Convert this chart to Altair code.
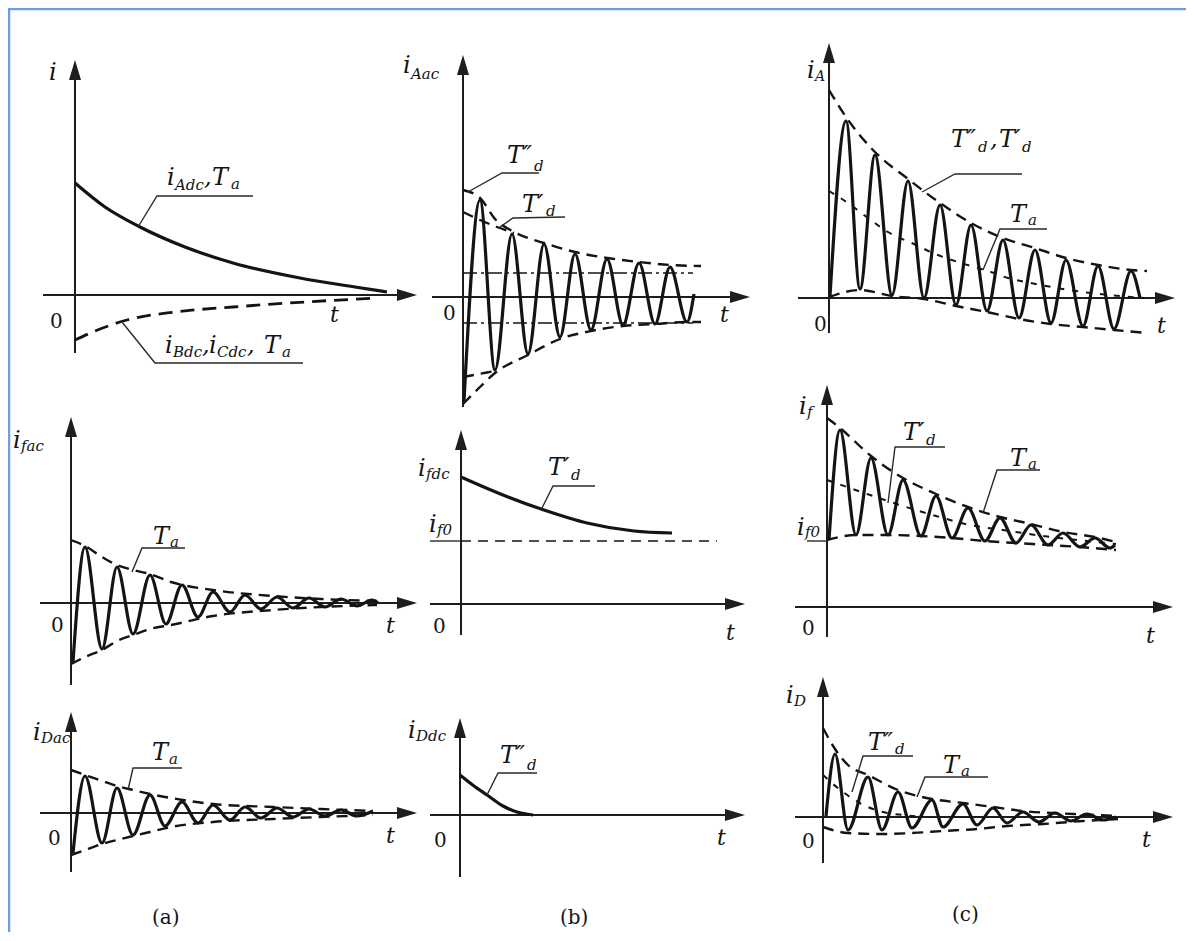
import altair as alt
import pandas as pd

# ---------------------------------------------------------------
# Values (arbitrary units: t = time, i = current)
# ---------------------------------------------------------------
# (a) top : DC components of the armature currents
IADC_T = [0, 30, 65, 110, 158, 225, 280, 312]
IADC_I = [112, 88, 68, 48, 32, 17, 8, 3]
IBDC_T = [0, 25, 52, 100, 158, 230, 302]
IBDC_I = [-45, -34, -25, -17, -12, -7, -3]

# (a) middle : AC component of the field current (successive extremes)
IFAC_T = [2, 14, 31, 46, 62, 79, 95, 111, 127, 142, 159, 174, 190, 206, 222, 238, 254, 270, 286, 301, 307]
IFAC_I = [-59, 56, -46, 36, -31, 28, -21, 18, -14, 11, -9, 8, -6, 6, -5, 5, -4, 4, -3, 3, 0]
IFAC_ENV_T = [0, 14, 31, 46, 62, 79, 100, 142, 202, 250, 306]
IFAC_ENV_UP = [63, 57, 46, 38, 33, 29, 21, 13, 7, 4, 2]
IFAC_ENV_LO = [-61, -54, -47, -38, -32, -26, -22, -13, -7, -4, -2]

# (a) bottom : AC component of the damper current
IDAC_T = [2, 14, 31, 46, 62, 79, 94, 111, 127, 142, 159, 174, 190, 206, 222, 238, 254, 270, 286, 302]
IDAC_I = [-40, 37, -30, 25, -22, 18, -13, 11, -10, 8, -7, 6, -5, 5, -4, 4, -3, 3, -3, 2]
IDAC_ENV_T = [0, 14, 31, 46, 62, 79, 100, 142, 202, 250, 302]
IDAC_ENV_UP = [43, 38, 32, 27, 23, 19, 15, 9, 6, 4, 2]
IDAC_ENV_LO = [-42, -37, -31, -27, -23, -19, -14, -9, -6, -4, -2]

# (b) top : AC component of phase-A current
IAAC_T = [1, 17, 32, 49, 65, 81, 97, 112, 128, 144, 160, 176, 192, 207, 224, 231]
IAAC_I = [-104, 97, -73, 63, -57, 53, -40, 43, -33, 38, -28, 34, -27, 30, -25, 3]
IAAC_SUB_UP_T = [0, 17, 33, 49, 81, 112, 144, 176, 207, 238]        # T''d envelope
IAAC_SUB_UP = [107, 99, 77, 66, 54, 45, 39, 35, 32, 31]
IAAC_SUB_LO_T = [0, 17, 32, 65, 97, 128, 160, 192, 224, 238]
IAAC_SUB_LO = [-107, -90, -76, -58, -42, -34, -29, -27, -25, -25]
IAAC_TR_UP_T = [0, 17, 34, 51]                                        # T'd envelope
IAAC_TR_UP = [85, 77, 70, 64]
IAAC_TR_LO_T = [0, 16, 32]
IAAC_TR_LO = [-80, -77, -74]
IAAC_SS_T = [0, 230]                                                  # steady-state amplitude
IAAC_SS_UP = [24, 24]
IAAC_SS_LO = [-26, -26]

# (b) middle : DC component of the field current
IFDC_T = [0, 42, 83, 126, 173, 211]
IFDC_I = [127, 109, 94, 81, 73, 71]
IF0_B_T = [0, 256]
IF0_B = [63, 63]

# (b) bottom : DC component of the damper current
IDDC_T = [0, 14, 27, 43, 57, 73]
IDDC_I = [40, 29, 20, 9, 3, 0]

# (c) top : total phase-A current
IA_T = [1, 17, 31, 46, 63, 79, 95, 111, 127, 142, 158, 174, 190, 206, 222, 237, 254, 269, 285, 302, 311]
IA_I = [2, 177, 9, 143, 3, 117, 0, 93, -7, 73, -13, 58, -20, 48, -25, 38, -28, 32, -31, 27, 0]
IA_UP_T = [0, 17, 46, 79, 111, 142, 174, 206, 237, 269, 302, 318]
IA_UP = [208, 181, 146, 119, 95, 75, 60, 50, 40, 33, 28, 27]
IA_LO_T = [0, 31, 63, 95, 127, 158, 190, 222, 254, 285, 318]
IA_LO = [1, 8, 2, -1, -8, -14, -21, -26, -29, -32, -35]
IA_DC_T = [0, 19, 39, 59, 87, 104, 132, 162, 179, 202, 240, 280, 315]
IA_DC = [107, 95, 80, 66, 53, 45, 35, 26, 20, 15, 8, 3, 0]

# (c) middle : total field current
IF_T = [2, 13, 29, 44, 61, 76, 94, 109, 125, 141, 158, 173, 189, 204, 221, 236, 253, 268, 283, 288]
IF_I = [67, 177, 72, 149, 72, 127, 71, 111, 69, 99, 66, 89, 64, 82, 62, 74, 60, 69, 59, 62]
IF_UP_T = [0, 13, 44, 76, 109, 141, 173, 204, 236, 268, 289]
IF_UP = [189, 179, 151, 129, 113, 100, 90, 83, 75, 70, 65]
IF_LO_T = [0, 29, 61, 94, 125, 158, 189, 221, 253, 289]
IF_LO = [67, 72, 72, 71, 69, 66, 64, 62, 60, 57]
IF_DC_T = [0, 43, 76, 109, 143, 176, 209, 250, 289]
IF_DC = [127, 112, 101, 91, 82, 77, 72, 67, 63]

# (c) bottom : total damper current
ID_T = [3, 12, 25, 45, 59, 75, 89, 109, 120, 140, 154, 170, 184, 200, 216, 232, 248, 264, 280, 293]
ID_I = [1, 63, -13, 40, -13, 25, -11, 17, -10, 13, -8, 9, -6, 5, -5, 4, -4, 3, -3, 0]
ID_UP_T = [0, 12, 25, 45, 75, 109, 140, 170, 200, 250, 295]
ID_UP = [89, 68, 52, 42, 27, 18, 14, 10, 6, 3, 1]
ID_DC_T = [0, 10, 20, 30, 45, 60, 80, 100]
ID_DC = [42, 33, 25, 18, 10, 5, 2, 0]
ID_LO_T = [0, 25, 59, 89, 120, 154, 184, 220, 260, 295]
ID_LO = [-10, -16, -17, -16, -14, -12, -9, -7, -4, -2]

# ---------------------------------------------------------------
# Layout / style
# ---------------------------------------------------------------
W, H = 1178, 924
X0, Y0 = 8, 8
INK = "#141414"
AXC = "#1e1e1e"
FRAME = "#6f9ddf"
FONT = "DejaVu Serif"
ARROW = "M0,0L-0.6,2L0.6,2Z"
M, S = 24, 15  # main / subscript font sizes
DP = "\u2033"  # double prime
SP = "\u2032"  # prime


def it(text, t, i, s=M):
    return (text, t, i, s)


PANELS = [
    # ---------------- column (a) ----------------
    dict(origin=(75, 295), axes=(-32, 342, -58, 235),
         solid=[(IADC_T, IADC_I)],
         bigdash=[(IBDC_T, IBDC_I)],
         leaders=[[(63, 68), (82, 99), (178, 99)], [(47, -27), (80, -68), (228, -68)]],
         italic=[it("i", -26, 215), it("t", 255, -27, 22),
                 it("i", 92, 110), it("Adc", 100, 105, S), it(",", 129, 110), it("T", 137, 110), it("a", 156, 106, S),
                 it("i", 90, -58), it("Bdc", 98, -62, S), it(",", 127, -58), it("i", 134, -58),
                 it("Cdc", 142, -62, S), it(",", 172, -58), it("T", 189, -58), it("a", 207, -62, S)],
         roman=[it("0", -25, -33, 20)]),
    dict(origin=(71, 603), axes=(-31, 346, -82, 186),
         solid=[(IFAC_T, IFAC_I)],
         dashed=[(IFAC_ENV_T, IFAC_ENV_UP), (IFAC_ENV_T, IFAC_ENV_LO)],
         leaders=[[(61, 31), (71, 55), (114, 55)]],
         italic=[it("i", -58, 155), it("fac", -50, 152, S), it("t", 315, -30, 22),
                 it("T", 82, 59), it("a", 99, 56, S)],
         roman=[it("0", -20, -29, 20)]),
    dict(origin=(71, 813), axes=(-31, 346, -59, 101),
         solid=[(IDAC_T, IDAC_I)],
         dashed=[(IDAC_ENV_T, IDAC_ENV_UP), (IDAC_ENV_T, IDAC_ENV_LO)],
         leaders=[[(57, 23), (62, 45), (111, 45)]],
         italic=[it("i", -38, 73), it("Dac", -30, 70, S), it("t", 315, -30, 22),
                 it("T", 81, 53), it("a", 98, 49, S)],
         roman=[it("0", -23, -32, 20), it("(a)", 81, -111, 20)]),
    # ---------------- column (b) ----------------
    dict(origin=(463, 297), axes=(-31, 287, -110, 242),
         solid=[(IAAC_T, IAAC_I)],
         dashed=[(IAAC_SUB_UP_T, IAAC_SUB_UP), (IAAC_SUB_LO_T, IAAC_SUB_LO),
                 (IAAC_TR_UP_T, IAAC_TR_UP), (IAAC_TR_LO_T, IAAC_TR_LO)],
         dashdot=[(IAAC_SS_T, IAAC_SS_UP), (IAAC_SS_T, IAAC_SS_LO)],
         leaders=[[(5, 105), (39, 124), (76, 124)], [(37, 70), (50, 79), (102, 80)]],
         italic=[it("i", -60, 224), it("Aac", -52, 218, S), it("t", 257, -25, 22),
                 it("T" + DP, 44, 134), it("d", 71, 126, S),
                 it("T" + SP, 59, 85), it("d", 83, 81, S)],
         roman=[it("0", -20, -23, 20)]),
    dict(origin=(461, 604), axes=(-31, 284, -31, 174),
         solid=[(IFDC_T, IFDC_I)],
         thindash=[(IF0_B_T, IF0_B)],
         leaders=[[(81, 96), (92, 118), (134, 118)], [(-31, 63), (0, 63)]],
         italic=[it("i", -43, 128), it("fdc", -35, 125, S), it("t", 265, -36, 22),
                 it("i", -32, 72), it("f0", -24, 69, S),
                 it("T" + SP, 87, 129), it("d", 110, 124, S)],
         roman=[it("0", -28, -29, 20)]),
    dict(origin=(460, 815), axes=(-30, 285, -62, 97),
         solid=[(IDDC_T, IDDC_I)],
         leaders=[[(27, 20), (38, 42), (77, 42)]],
         italic=[it("i", -52, 77), it("Ddc", -44, 74, S), it("t", 257, -30, 22),
                 it("T" + DP, 40, 52), it("d", 67, 45, S)],
         roman=[it("0", -26, -32, 20), it("(b)", 100, -109, 20)]),
    # ---------------- column (c) ----------------
    dict(origin=(829, 298), axes=(-31, 346, -35, 255),
         solid=[(IA_T, IA_I)],
         dashed=[(IA_UP_T, IA_UP), (IA_LO_T, IA_LO)],
         short=[(IA_DC_T, IA_DC)],
         leaders=[[(93, 106), (126, 124), (193, 124)], [(154, 28), (171, 69), (218, 69)]],
         italic=[it("i", -22, 220), it("A", -14, 217, 14), it("t", 328, -35, 22),
                 it("T" + DP, 122, 151), it("d", 149, 146, S), it(",", 161, 151),
                 it("T" + SP, 170, 151), it("d", 193, 146, S),
                 it("T", 181, 76), it("a", 199, 73, S)],
         roman=[it("0", -15, -33, 20)]),
    dict(origin=(827, 607), axes=(-32, 346, -30, 222),
         solid=[(IF_T, IF_I)],
         dashed=[(IF_UP_T, IF_UP), (IF_LO_T, IF_LO)],
         short=[(IF_DC_T, IF_DC)],
         leaders=[[(61, 104), (68, 160), (118, 160)], [(156, 94), (170, 137), (213, 137)],
                  [(-20, 66), (0, 66)]],
         italic=[it("i", -28, 193), it("f", -20, 190, S), it("i", -30, 72), it("f0", -22, 70, S),
                 it("t", 319, -36, 22),
                 it("T" + SP, 76, 167), it("d", 99, 162, S), it("T", 183, 141), it("a", 201, 138, S)],
         roman=[it("0", -25, -28, 20)]),
    dict(origin=(823, 817), axes=(-28, 350, -46, 140),
         solid=[(ID_T, ID_I)],
         dashed=[(ID_UP_T, ID_UP), (ID_LO_T, ID_LO)],
         short=[(ID_DC_T, ID_DC)],
         leaders=[[(29, 25), (40, 61), (90, 61)], [(94, 20), (102, 40), (165, 40)]],
         italic=[it("i", -37, 114), it("D", -29, 111, S), it("t", 319, -30, 22),
                 it("T" + DP, 45, 67), it("d", 72, 63, S), it("T", 120, 44), it("a", 138, 41, S)],
         roman=[it("0", -21, -31, 20), it("(c)", 129, -104, 20)]),
]

LINE_STYLES = {
    "solid": dict(strokeWidth=3.2, interpolate="monotone"),
    "bigdash": dict(strokeWidth=2.8, strokeDash=[14, 8], interpolate="monotone"),
    "dashed": dict(strokeWidth=2.4, strokeDash=[11, 7], interpolate="monotone"),
    "short": dict(strokeWidth=2.0, strokeDash=[6, 8], interpolate="monotone"),
    "dashdot": dict(strokeWidth=1.6, strokeDash=[14, 4, 3, 4], interpolate="linear"),
    "thindash": dict(strokeWidth=1.6, strokeDash=[10, 7], interpolate="linear"),
    "leaders": dict(strokeWidth=1.4, interpolate="linear"),
}


def build_panel(p):
    ox, oy = p["origin"]
    xs = alt.Scale(domain=[X0 - ox, X0 + W - ox], nice=False, zero=False)
    ys = alt.Scale(domain=[oy - (Y0 + H), oy - Y0], nice=False, zero=False)
    X = alt.X("t:Q", scale=xs, axis=None)
    Y = alt.Y("i:Q", scale=ys, axis=None)
    layers = []

    tl, tt, ib, ti = p["axes"]
    ax = pd.DataFrame({"t": [tl, 0], "i": [0, ib], "t2": [tt - 12, 0], "i2": [0, ti - 12]})
    layers.append(alt.Chart(ax).mark_rule(color=AXC, strokeWidth=2).encode(
        x=X, y=Y, x2="t2:Q", y2="i2:Q"))
    tips = pd.DataFrame({"t": [tt, 0], "i": [0, ti], "a": [90, 0]})
    layers.append(alt.Chart(tips).mark_point(shape=ARROW, size=400, filled=True, opacity=1,
                                             color=AXC, strokeWidth=0).encode(
        x=X, y=Y, angle=alt.Angle("a:Q", scale=None)))

    for key, style in LINE_STYLES.items():
        series = p.get(key)
        if not series:
            continue
        rows = []
        for k, s in enumerate(series):
            pts = zip(*s) if key != "leaders" else s
            for n, (a, b) in enumerate(pts):
                rows.append({"t": a, "i": b, "k": k, "n": n})
        color = "#2a2a2a" if key == "leaders" else INK
        layers.append(alt.Chart(pd.DataFrame(rows)).mark_line(color=color, **style).encode(
            x=X, y=Y, detail="k:N", order="n:Q"))

    for key, fstyle in (("italic", "italic"), ("roman", "normal")):
        rows = p.get(key)
        if not rows:
            continue
        df = pd.DataFrame(rows, columns=["text", "t", "i", "s"])
        layers.append(alt.Chart(df).mark_text(align="left", baseline="alphabetic", font=FONT,
                                              fontStyle=fstyle, color=INK).encode(
            x=X, y=Y, text="text:N", size=alt.Size("s:Q", scale=None)))
    return alt.layer(*layers)


fx = alt.Scale(domain=[X0, X0 + W], nice=False, zero=False)
fy = alt.Scale(domain=[Y0, Y0 + H], reverse=True, nice=False, zero=False)
frame_df = pd.DataFrame({"x": [X0, X0 + 1], "y": [Y0 + 1, Y0],
                         "x2": [X0 + W, X0 + 1], "y2": [Y0 + 1, Y0 + H]})
frame = alt.Chart(frame_df).mark_rule(color=FRAME, strokeWidth=2.5).encode(
    x=alt.X("x:Q", scale=fx, axis=None), y=alt.Y("y:Q", scale=fy, axis=None),
    x2="x2:Q", y2="y2:Q")

chart = alt.layer(frame, *[build_panel(p) for p in PANELS]).resolve_scale(
    x="independent", y="independent"
).properties(width=W, height=H, autosize="none", padding=0).configure_view(stroke=None)

chart.save("out.html", embed_options={"renderer": "svg", "actions": False})
